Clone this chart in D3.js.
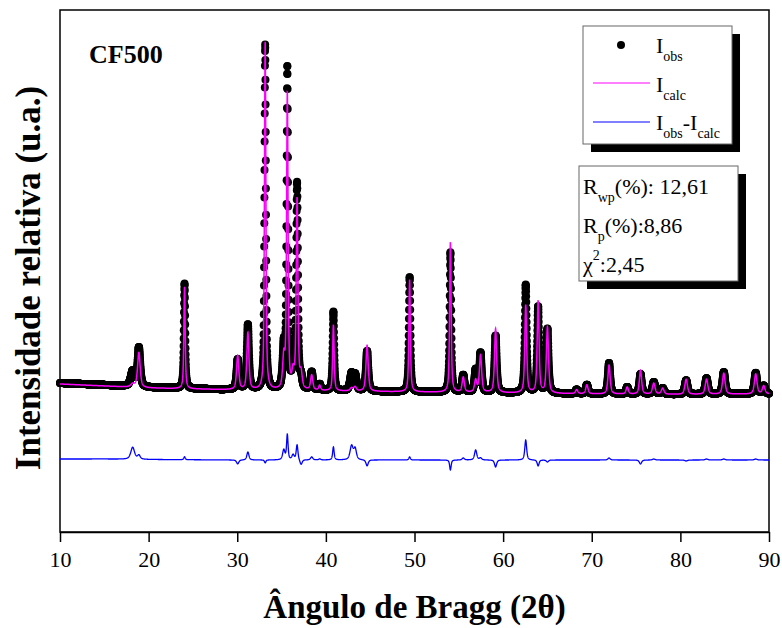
<!DOCTYPE html>
<html>
<head>
<meta charset="utf-8">
<script src="https://cdn.jsdelivr.net/npm/d3@7"></script>
<style>
  body { margin: 0; background: #fff; }
  text { font-family: "Liberation Serif", "Times New Roman", serif; }
</style>
</head>
<body>
<script>
// background (2theta, intensity in a.u.)
const bgAngles = [10, 15, 20, 30, 40, 50, 60, 70, 80, 90];
const bgObs    = [1490, 1470, 1445, 1420, 1410, 1400, 1390, 1380, 1375, 1380];
const bgCalc   = [1480, 1460, 1440, 1420, 1410, 1400, 1390, 1380, 1375, 1380];

// reflections: position, observed height, calculated height, FWHM
const peakPos = [18.2, 18.9, 24.05, 30.05, 31.2, 33.15, 35.25, 35.65, 36.3, 36.75, 37.2, 38.4, 39.3,
  40.85, 42.9, 43.3, 44.65, 49.45, 54.05, 55.5, 56.9, 57.45, 59.15, 62.55, 63.95, 65.0, 68.3,
  69.45, 71.95, 74.0, 75.5, 77.0, 78.0, 80.65, 82.95, 84.9, 88.5, 89.4];
const obsHeight = [150, 390, 1050, 300, 650, 3450, 400, 3200, 200, 2050, 100, 180, 60,
  790, 170, 150, 400, 1150, 1400, 170, 220, 390, 570, 1080, 860, 640, 40,
  90, 310, 70, 200, 120, 60, 140, 160, 220, 210, 80];
const calcHeight = [30, 350, 1020, 340, 570, 3480, 300, 2950, 150, 1900, 150, 150, 50,
  660, 30, 40, 460, 1120, 1500, 150, 120, 370, 640, 880, 920, 660, 40,
  90, 290, 70, 240, 110, 60, 150, 150, 210, 200, 80];
const obsWidth = [0.5, 0.35, 0.18, 0.3, 0.28, 0.19, 0.3, 0.2, 0.3, 0.23, 0.3, 0.3, 0.25,
  0.2, 0.4, 0.35, 0.3, 0.2, 0.2, 0.3, 0.3, 0.3, 0.28, 0.25, 0.25, 0.28, 0.3,
  0.3, 0.3, 0.3, 0.3, 0.35, 0.35, 0.35, 0.35, 0.35, 0.35, 0.35];

const xTicks = [10, 20, 30, 40, 50, 60, 70, 80, 90];
const diffOffset = 720;
const step = 0.012;

const width = 782, height = 628;
const margin = {left: 60, right: 13, top: 10, bottom: 96};

const svg = d3.select('body').append('svg')
  .attr('width', width)
  .attr('height', height);

const x = d3.scaleLinear().domain([10, 90]).range([margin.left, width - margin.right]);
const y = d3.scaleLinear().domain([0, 5220]).range([height - margin.bottom, margin.top]);

const bgO = d3.scaleLinear().domain(bgAngles).range(bgObs);
const bgC = d3.scaleLinear().domain(bgAngles).range(bgCalc);

function profile(t, heights) {
  let s = 0;
  for (let i = 0; i < peakPos.length; i++) {
    const u = (t - peakPos[i]) / obsWidth[i];
    const L = 1 / (1 + 4 * u * u);
    const G = Math.exp(-4 * Math.LN2 * u * u);
    s += heights[i] * (0.6 * L + 0.4 * G);
  }
  return s;
}

const pts = d3.range(10, 90 + step / 2, step).map(t => {
  const o = bgO(t) + profile(t, obsHeight);
  const c = bgC(t) + profile(t, calcHeight);
  return {t: t, obs: o, calc: c, diff: o - c + diffOffset};
});

// frame
svg.append('rect')
  .attr('x', margin.left).attr('y', margin.top)
  .attr('width', width - margin.left - margin.right)
  .attr('height', height - margin.top - margin.bottom)
  .attr('fill', 'none').attr('stroke', '#000').attr('stroke-width', 1.5);

// x axis
const xAxis = svg.append('g')
  .attr('transform', `translate(0,${height - margin.bottom})`)
  .call(d3.axisBottom(x).tickValues(xTicks).tickSize(10).tickSizeOuter(0).tickFormat(d3.format('d')));
xAxis.select('.domain').attr('stroke-width', 1.5);
xAxis.selectAll('.tick line').attr('stroke-width', 1.5);
xAxis.selectAll('.tick text')
  .attr('font-size', 22)
  .attr('font-family', '"Liberation Serif", serif')
  .attr('dy', '1em')
  .attr('fill', '#000');

// observed points
svg.append('g').selectAll('circle')
  .data(pts)
  .enter()
  .append('circle')
  .attr('cx', d => x(d.t))
  .attr('cy', d => y(d.obs))
  .attr('r', 4)
  .attr('fill', '#000');

// calculated
svg.append('path')
  .datum(pts)
  .attr('fill', 'none')
  .attr('stroke', '#ff00ff')
  .attr('stroke-width', 1.5)
  .attr('d', d3.line().x(d => x(d.t)).y(d => y(d.calc)));

// difference
svg.append('path')
  .datum(pts)
  .attr('fill', 'none')
  .attr('stroke', '#0000ff')
  .attr('stroke-width', 1.3)
  .attr('d', d3.line().x(d => x(d.t)).y(d => y(d.diff)));

// titles
svg.append('text')
  .attr('x', (margin.left + width - margin.right) / 2)
  .attr('y', 618)
  .attr('text-anchor', 'middle')
  .attr('font-size', 33)
  .attr('font-weight', 'bold')
  .text('Ângulo de Bragg (2θ)');

svg.append('text')
  .attr('transform', 'translate(40,278) rotate(-90)')
  .attr('text-anchor', 'middle')
  .attr('font-size', 35)
  .attr('font-weight', 'bold')
  .text('Intensidade relativa (u.a.)');

svg.append('text')
  .attr('x', 89).attr('y', 63)
  .attr('font-size', 26)
  .attr('font-weight', 'bold')
  .text('CF500');

// legend box
function shadowBox(x0, y0, w, h) {
  svg.append('rect').attr('x', x0 + 8).attr('y', y0 + 8).attr('width', w).attr('height', h).attr('fill', '#000');
  svg.append('rect').attr('x', x0).attr('y', y0).attr('width', w).attr('height', h)
    .attr('fill', '#fff').attr('stroke', '#666').attr('stroke-width', 1);
}

function subLabel(x0, yb, parts) {
  const t = svg.append('text').attr('x', x0).attr('y', yb).attr('font-size', 22);
  parts.forEach(p => {
    t.append('tspan')
      .attr('font-size', p.sub || p.sup ? 14 : 22)
      .attr('dy', p.dy || 0)
      .text(p.s);
  });
}

shadowBox(583, 26, 149, 118);
svg.append('circle').attr('cx', 621).attr('cy', 45).attr('r', 4).attr('fill', '#000');
subLabel(656, 53, [{s: 'I'}, {s: 'obs', sub: true, dy: 8}]);
svg.append('line').attr('x1', 593).attr('x2', 650).attr('y1', 83).attr('y2', 83)
  .attr('stroke', '#ff00ff').attr('stroke-width', 1.2);
subLabel(656, 92, [{s: 'I'}, {s: 'calc', sub: true, dy: 8}]);
svg.append('line').attr('x1', 593).attr('x2', 650).attr('y1', 122).attr('y2', 122)
  .attr('stroke', '#0000ff').attr('stroke-width', 1.2);
subLabel(656, 130, [{s: 'I'}, {s: 'obs', sub: true, dy: 8}, {s: '-I', dy: -8}, {s: 'calc', sub: true, dy: 8}]);

// stats box
shadowBox(579, 166, 159, 115);
subLabel(583, 194, [{s: 'R'}, {s: 'wp', sub: true, dy: 8}, {s: '(%): 12,61', dy: -8}]);
subLabel(583, 233, [{s: 'R'}, {s: 'p', sub: true, dy: 8}, {s: '(%):8,86', dy: -8}]);
subLabel(583, 272, [{s: 'χ'}, {s: '2', sup: true, dy: -12}, {s: ':2,45', dy: 12}]);
</script>
</body>
</html>
